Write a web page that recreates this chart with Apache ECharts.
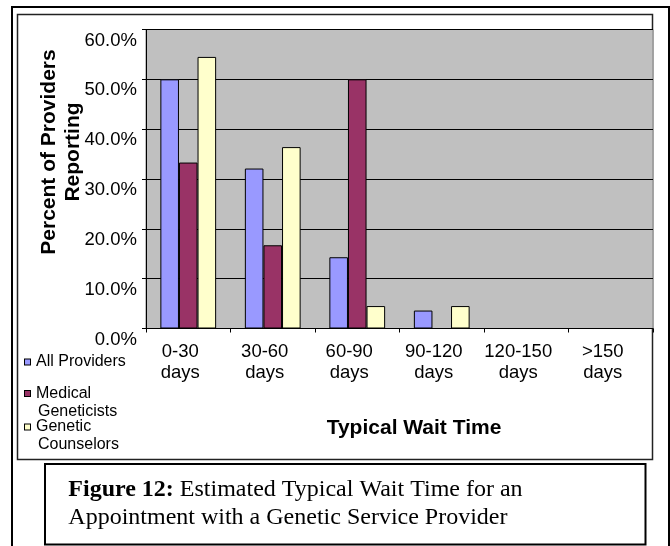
<!DOCTYPE html>
<html>
<head>
<meta charset="utf-8">
<script src="https://cdn.jsdelivr.net/npm/echarts@6/dist/echarts.min.js"></script>
<style>
  html, body { margin: 0; padding: 0; background: #fff; }
  #chart { width: 670px; height: 546px; }
</style>
</head>
<body>
<div id="chart"></div>
<script>
// ---- data ----
const categories = ['0-30\ndays', '30-60\ndays', '60-90\ndays', '90-120\ndays', '120-150\ndays', '>150\ndays'];
const allProviders = [50.0, 32.1, 14.3, 3.6, 0, 0];
const medicalGeneticists = [33.3, 16.7, 50.0, 0, 0, 0];
const geneticCounselors = [54.5, 36.4, 4.5, 4.5, 0, 0];
const seriesNames = ['All Providers', 'Medical Geneticists', 'Genetic Counselors'];
const legendLines = [['All Providers'], ['Medical', 'Geneticists'], ['Genetic', 'Counselors']];
const yMin = 0, yMax = 60, yInterval = 10;
const yAxisTitle = 'Percent of Providers\nReporting';
const xAxisTitle = 'Typical Wait Time';
const captionBold = 'Figure 12:';
const captionLine1 = ' Estimated Typical Wait Time for an';
const captionLine2 = 'Appointment with a Genetic Service Provider';

// ---- styles ----
const colors = ['#9999FF', '#993366', '#FFFFCC'];
const SANS = '"Liberation Sans", Arial, sans-serif';
const SERIF = '"Liberation Serif", "Times New Roman", serif';
const legendTops = [353, 384.5, 418];

const chart = echarts.init(document.getElementById('chart'), null, { renderer: 'canvas' });

function legendFor(i) {
  const rich = {
    sq: { width: 5, height: 5, backgroundColor: colors[i], borderColor: '#000', borderWidth: 1, verticalAlign: 'middle' },
    sp: { width: 6 },
    ind: { width: 13 },
    t: { fontSize: 16, fontFamily: SANS, color: '#000', lineHeight: 18 }
  };
  return {
    show: true,
    data: [seriesNames[i]],
    left: 20,
    top: legendTops[i],
    padding: 0,
    icon: 'none',
    itemWidth: 0,
    itemHeight: 18 * legendLines[i].length,
    selectedMode: false,
    textStyle: { fontSize: 16, fontFamily: SANS, color: '#000', lineHeight: 18, rich: rich },
    formatter: function () {
      const lines = legendLines[i];
      return lines.map((l, k) => (k === 0 ? '{sq|}{sp|}{t|' + l + '}' : '{ind|}{t|' + l + '}')).join('\n');
    }
  };
}

const option = {
  animation: false,
  backgroundColor: '#fff',
  color: colors,
  grid: {
    left: 146, top: 29.5, right: 17, bottom: 217.5,
    show: true, backgroundColor: '#C0C0C0', borderColor: '#808080', borderWidth: 1
  },
  legend: [legendFor(0), legendFor(1), legendFor(2)],
  xAxis: {
    type: 'category',
    data: categories,
    boundaryGap: true,
    axisLine: { show: true, lineStyle: { color: '#000', width: 1 } },
    axisTick: { show: true, length: 4, lineStyle: { color: '#000' } },
    axisLabel: {
      interval: 0, margin: 13, color: '#000', fontFamily: SANS, fontSize: 18.5, lineHeight: 21,
      padding: [0, 16, 0, 0]
    },
    name: xAxisTitle,
    nameLocation: 'middle',
    nameGap: 89,
    nameMoveOverlap: false,
    nameTextStyle: { fontFamily: SANS, fontWeight: 'bold', fontSize: 21, lineHeight: 21, color: '#000', padding: [0, 0, 0, 29] }
  },
  yAxis: {
    type: 'value',
    min: yMin, max: yMax, interval: yInterval,
    axisLine: { show: true, lineStyle: { color: '#000', width: 1 } },
    axisTick: { show: true, length: 4, lineStyle: { color: '#000' } },
    splitLine: { show: true, lineStyle: { color: '#000', width: 1 } },
    axisLabel: {
      margin: 9, color: '#000', fontFamily: SANS, fontSize: 18.5,
      verticalAlign: 'top', lineHeight: 22,
      formatter: v => v.toFixed(1) + '%'
    },
    name: yAxisTitle,
    nameLocation: 'middle',
    nameRotate: 90,
    nameGap: 61,
    nameMoveOverlap: false,
    nameTextStyle: { fontFamily: SANS, fontWeight: 'bold', fontSize: 21, lineHeight: 24, color: '#000', align: 'center', padding: [0, 0, 0, 54] }
  },
  series: [allProviders, medicalGeneticists, geneticCounselors].map((d, i) => ({
    name: seriesNames[i],
    type: 'bar',
    data: d,
    barGap: '0%',
    barCategoryGap: '34%',
    itemStyle: { color: colors[i], borderColor: '#000', borderWidth: 1 }
  })),
  graphic: [
    { type: 'rect', z: -10, shape: { x: 12, y: 7, width: 657, height: 600 }, style: { fill: 'none', stroke: '#000', lineWidth: 2 }, silent: true },
    { type: 'rect', z: -10, shape: { x: 17.5, y: 14.5, width: 635, height: 445 }, style: { fill: 'none', stroke: '#222', lineWidth: 1.5 }, silent: true },
    { type: 'rect', z: -10, shape: { x: 45, y: 464, width: 600.5, height: 80.5 }, style: { fill: 'none', stroke: '#000', lineWidth: 2 }, silent: true },
    {
      type: 'text', x: 68.3, y: 476.5, silent: true,
      style: {
        text: '{b|' + captionBold + '}{r|' + captionLine1 + '}\n{r|' + captionLine2 + '}',
        fill: '#000',
        font: '24px ' + SERIF,
        lineHeight: 27.3,
        verticalAlign: 'top',
        rich: {
          b: { fontFamily: SERIF, fontWeight: 'bold', fontSize: 24, lineHeight: 27.3, fill: '#000' },
          r: { fontFamily: SERIF, fontSize: 24, lineHeight: 27.3, fill: '#000' }
        }
      }
    }
  ]
};
chart.setOption(option);
</script>
</body>
</html>
